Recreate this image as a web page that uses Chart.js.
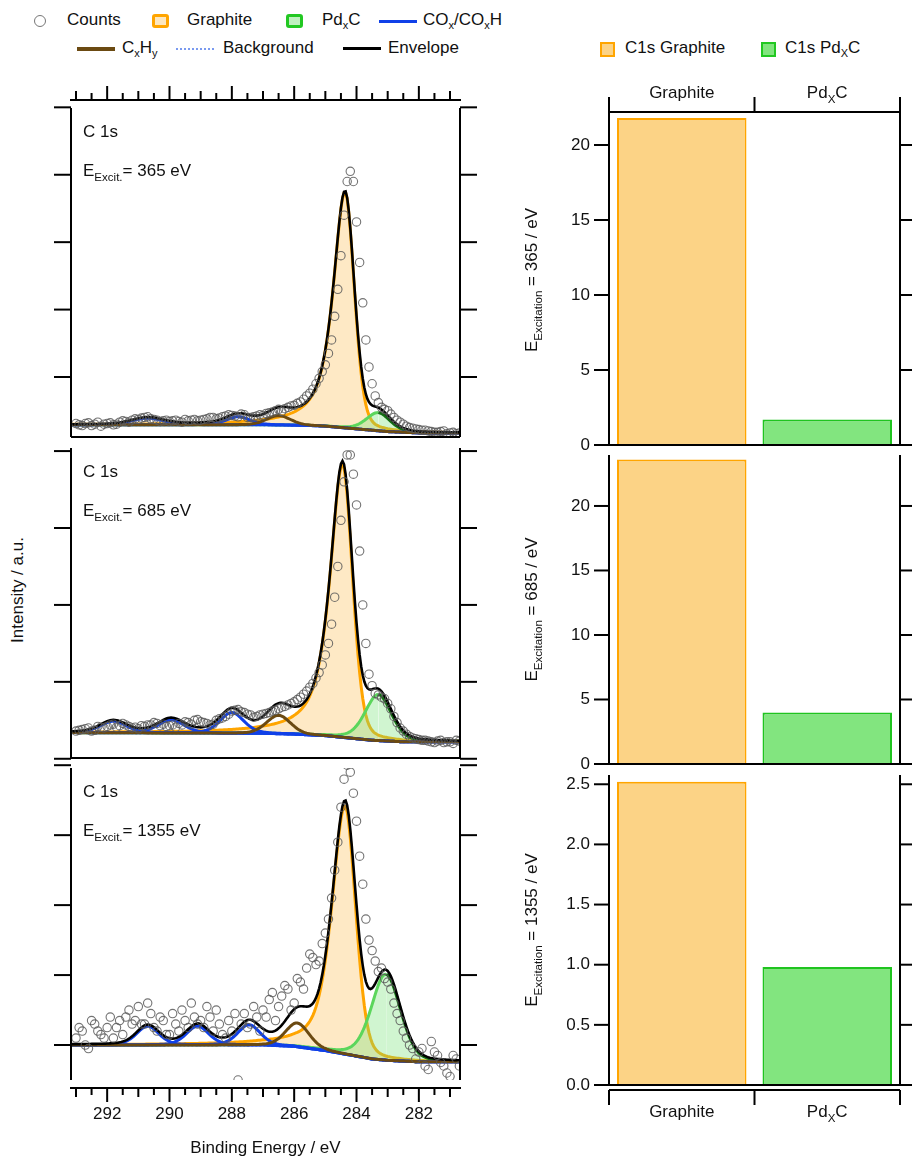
<!DOCTYPE html>
<html><head><meta charset="utf-8">
<script src="https://cdn.jsdelivr.net/npm/chart.js@4.4.0/dist/chart.umd.min.js"></script>
<style>
body{margin:0;background:#fff;width:912px;height:1169px;position:relative;overflow:hidden;font-family:"Liberation Sans",Arial,sans-serif;}
canvas{position:absolute;left:0;top:0;}
.lg{position:absolute;font-size:17px;color:#111;white-space:nowrap;line-height:20px}
.sw{position:absolute;}
sub{font-size:11px;vertical-align:-4px;line-height:0}
</style></head><body>
<div class="sw" style="left:34px;top:15px;width:10px;height:10px;border:1.5px solid #777;border-radius:50%"></div>
<div class="lg" style="left:67px;top:10px">Counts</div>
<div class="sw" style="left:152px;top:14px;width:11px;height:8px;border:3px solid #FFA500;background:#FDE7BF;border-radius:3px"></div>
<div class="lg" style="left:187px;top:10px">Graphite</div>
<div class="sw" style="left:286px;top:14px;width:11px;height:8px;border:3px solid #22C822;background:#bff0bf;border-radius:3px"></div>
<div class="lg" style="left:322px;top:10px">Pd<sub>x</sub>C</div>
<div class="sw" style="left:379px;top:20px;width:38px;height:3px;background:#1040E8"></div>
<div class="lg" style="left:423px;top:10px">CO<sub>x</sub>/CO<sub>x</sub>H</div>
<div class="sw" style="left:77px;top:47px;width:38px;height:4px;background:#6B4A12"></div>
<div class="sw" style="left:176px;top:48px;width:38px;height:0;border-top:2px dotted #7A9AF0"></div>
<div class="lg" style="left:122px;top:38px">C<sub>x</sub>H<sub>y</sub></div>
<div class="lg" style="left:223px;top:38px">Background</div>
<div class="sw" style="left:343px;top:47px;width:38px;height:3px;background:#000"></div>
<div class="lg" style="left:388px;top:38px">Envelope</div>
<div class="sw" style="left:600px;top:42px;width:11px;height:11px;border:2px solid #FFA500;background:#FCD386"></div>
<div class="lg" style="left:625px;top:38px">C1s Graphite</div>
<div class="sw" style="left:761px;top:42px;width:11px;height:11px;border:2px solid #22C822;background:#82E57F"></div>
<div class="lg" style="left:785px;top:38px">C1s Pd<sub>X</sub>C</div>
<div class="lg" style="left:-42px;top:580px;width:120px;text-align:center;transform:rotate(-90deg)">Intensity / a.u.</div>

<canvas id="l1"></canvas><canvas id="l2"></canvas><canvas id="l3"></canvas>
<canvas id="r1"></canvas><canvas id="r2"></canvas><canvas id="r3"></canvas>
<script>
// ---------- DATA ----------
const energies = [293.0,292.8,292.6,292.4,292.2,292.0,291.8,291.6,291.4,291.2,291.0,290.8,290.6,290.4,290.2,290.0,289.8,289.6,289.4,289.2,289.0,288.8,288.6,288.4,288.2,288.0,287.8,287.6,287.4,287.2,287.0,286.8,286.6,286.4,286.2,286.0,285.8,285.6,285.4,285.2,285.0,284.8,284.6,284.4,284.2,284.0,283.8,283.6,283.4,283.2,283.0,282.8,282.6,282.4,282.2,282.0,281.8,281.6,281.4,281.2,281.0,280.8];
const energiesB = [292.9,292.7,292.5,292.3,292.1,291.9,291.7,291.5,291.3,291.1,290.9,290.7,290.5,290.3,290.1,289.9,289.7,289.5,289.3,289.1,288.9,288.7,288.5,288.3,288.1,287.9,287.7,287.5,287.3,287.1,286.9,286.7,286.5,286.3,286.1,285.9,285.7,285.5,285.3,285.1,284.9,284.7,284.5,284.3,284.1,283.9,283.7,283.5,283.3,283.1,282.9,282.7,282.5,282.3,282.1,281.9,281.7,281.5,281.3,281.1,280.9,280.7];
const counts365 = [.31,.28,.32,.30,.27, .31,.29,.33,.34,.36, .37,.40,.38,.36,.35, .34,.36,.33,.35,.37, .36,.38,.40,.39,.42, .43,.41,.44,.40,.42, .43,.47,.50,.49,.55, .58,.63,.72,.82,.98, 1.18,1.55,2.3,3.4,4.05, 3.3,2.1,1.15,.72,.55, .50,.40,.33,.27,.24, .22,.21,.19,.18,.20,.17,.16];
const counts365b = [.29,.31,.28,.33,.30, .32,.30,.35,.33,.38, .39,.41,.37,.34,.36, .35,.34,.37,.36,.35, .37,.40,.38,.41,.44, .42,.45,.40,.41,.44, .46,.48,.52,.53,.57, .61,.67,.76,.90,1.08, 1.35,1.9,2.8,3.9,3.9, 2.7,1.55,.9,.62,.52, .45,.36,.30,.25,.23, .21,.20,.18,.19,.16,.18,.17];
const counts685 = [.36,.38,.40,.37,.41, .42,.45,.43,.44,.40, .39,.42,.44,.46,.45, .43,.41,.44,.47,.50, .48,.46,.45,.52,.55, .62,.64,.60,.57,.55, .58,.60,.63,.67,.70, .74,.80,.88,.98,1.12, 1.35,1.75,2.5,3.6,3.95, 3.3,2.0,1.1,.85,.80, .72,.55,.40,.32,.27, .25,.24,.22,.23,.21,.22,.24];
const counts685b = [.37,.39,.36,.42,.40, .44,.41,.46,.42,.41, .43,.44,.47,.43,.42, .44,.46,.48,.45,.51, .47,.44,.50,.53,.58, .63,.61,.58,.54,.57, .59,.62,.65,.68,.72, .77,.84,.93,1.05,1.22, 1.5,2.1,3.1,3.95,3.7, 2.7,1.5,.95,.83,.78, .65,.47,.36,.29,.26, .24,.23,.21,.24,.22,.20,.23];
const counts1355 = [.1,.2,-.05,.3,.15, .25,.1,.35,.4,.3, .55,.3,.45,.2,.35, .15,.3,.5,.25,.4, .35,.55,.2,.3,.1, .2,-.5,.45,.3,.4, .5,.65,.35,.7,.8, .6,.9,1.1,1.25,1.2, 1.6,2.1,2.9,3.8,3.9, 3.2,2.3,1.5,1.2,1.1, .9,.6,.35,.1,-.05, -.1,-.3,.05,-.15,-.3,-.45,-.2];
const counts1355b = [.25,.0,.35,.2,.1, .4,.25,.15,.5,.35, .3,.6,.25,.4,.15, .45,.2,.35,.6,.3, .25,.4,.5,.15,.35, .45,.3,.25,.55,.2, .4,.75,.55,.85,.5, .95,.8,1.3,1.15,1.45, 1.8,2.5,3.4,4.0,3.6, 2.7,1.8,1.35,1.05,.95, .8,.45,.2,.0,-.2, -.05,-.35,-.1,-.25,-.4,-.15,-.3];
// background anchor points
const bgE = [293.2,287,286,285.5,285,284.5,284,283.5,283,282.5,282,280.6];
const bg365 = [.29,.29,.285,.28,.27,.25,.23,.21,.19,.18,.17,.17];
const bg685 = [.34,.33,.32,.31,.30,.28,.26,.24,.23,.22,.22,.22];
const bg1355 = [0,0,-.02,-.05,-.08,-.12,-.16,-.2,-.22,-.23,-.24,-.24];
// fit components: [centre, height, width high-BE side, width low-BE side, lorentz high, lorentz low]
const graphite365 = [284.37,3.5,0.9,0.7,0.8,0.2];
const pdc365 = [283.3,0.27,0.9,0.9,0.3,0.3];
const cxhy365 = [286.5,0.14,0.9,0.9,0.2,0.2];
const cox365 = [[287.8,0.12,0.9],[290.7,0.10,1.2]];
const graphite685 = [284.45,3.55,0.95,0.75,0.8,0.2];
const pdc685 = [283.3,0.6,1.0,1.0,0.3,0.3];
const cxhy685 = [286.5,0.24,0.9,0.9,0.2,0.2];
const cox685 = [[288.0,0.27,0.9],[289.95,0.17,1.0],[291.8,0.15,1.0]];
const graphite1355 = [284.37,3.55,1.0,0.8,0.6,0.2];
const pdc1355 = [283.06,1.23,1.1,1.1,0.3,0.2];
const cxhy1355 = [285.9,0.34,0.9,0.9,0.2,0.2];
const cox1355 = [[287.45,0.29,0.85],[289.1,0.27,0.85],[290.7,0.27,0.85]];
// bar data
const barCats = ['Graphite','PdXC'];
const bars365 = [21.8,1.7];
const bars685 = [23.6,4.0];
const bars1355 = [2.52,0.98];
const xTickLabels = [292,290,288,286,284,282];

// ---------- HELPERS ----------
const FONT = '"Liberation Sans", Arial, sans-serif';
function pv(x,p){const [c,h,wl,wr,ml,mr]=p;const hi=x>c;const w=hi?wl:wr;const m=hi?ml:mr;const r=(x-c)/w;return h*(m/(1+4*r*r)+(1-m)*Math.exp(-4*Math.LN2*r*r));}
function interp(xs,ys,x){for(let i=0;i<xs.length-1;i++){if(x<=xs[i]&&x>=xs[i+1]){const t=(xs[i]-x)/(xs[i]-xs[i+1]);return ys[i]+t*(ys[i+1]-ys[i]);}}return x>xs[0]?ys[0]:ys[ys.length-1];}
const grid=[];for(let e=293.15;e>=280.65;e-=0.05)grid.push(+e.toFixed(2));
function rich(ctx,segs,x,y,size,align){
  let w=0;segs.forEach(s=>{ctx.font=(s[1]?size*0.68:size)+'px '+FONT;w+=ctx.measureText(s[0]).width;});
  let cx=align==='center'?x-w/2:(align==='right'?x-w:x);
  ctx.textAlign='left';ctx.textBaseline='alphabetic';
  segs.forEach(s=>{ctx.font=(s[1]?size*0.68:size)+'px '+FONT;ctx.fillText(s[0],cx,y+(s[1]?size*0.32:0));cx+=ctx.measureText(s[0]).width;});
}
function line(ctx,x1,y1,x2,y2){ctx.beginPath();ctx.moveTo(x1,y1);ctx.lineTo(x2,y2);ctx.stroke();}
function setupCanvas(id){const c=document.getElementById(id);c.style.width='912px';c.style.height='1169px';return c;}

// ---------- LEFT SPECTRA ----------
function spectrum(id,cfg){
  const bgv=grid.map(e=>interp(bgE,cfg.bg,e));
  const comp=p=>grid.map((e,i)=>({x:e,y:bgv[i]+pv(e,p)}));
  const coxP=cfg.cox.map(c=>[c[0],c[1],c[2],c[2],0.3,0.3]);
  const all=[cfg.graphite,cfg.pdc,cfg.cxhy,...coxP];
  const env=grid.map((e,i)=>({x:e,y:bgv[i]+all.reduce((s,p)=>s+pv(e,p),0)}));
  const ds=[
    {data:grid.map((e,i)=>({x:e,y:bgv[i]})),borderColor:'#7A9AF0',borderWidth:3,borderDash:[2,2],pointRadius:0,order:8},
    {data:comp(cfg.graphite),borderColor:'#FFA500',borderWidth:3,pointRadius:0,fill:{target:0,above:'rgba(253,215,150,0.55)',below:'rgba(253,215,150,0.55)'},order:6},
    {data:comp(cfg.pdc),borderWidth:3,pointRadius:0,borderColor:'#1A7A1A',segment:{borderColor:c=>c.p0.parsed.x>cfg.pdc[0]?'#5CD65C':'#146E14'},fill:{target:0,above:'rgba(120,225,120,0.35)',below:'rgba(120,225,120,0.35)'},order:5},
    {data:comp(cfg.cxhy),borderColor:'#6B4A12',borderWidth:3,pointRadius:0,order:4},
  ];
  coxP.forEach(p=>ds.push({data:comp(p),borderColor:'#1040E8',borderWidth:3,pointRadius:0,order:4}));
  ds.push({data:env,borderColor:'#000',borderWidth:2.6,pointRadius:0,order:2});
  const pts=energies.map((e,i)=>({x:e,y:cfg.counts[i]})).concat(energiesB.map((e,i)=>({x:e,y:cfg.countsB[i]})));
  ds.push({data:pts,showLine:false,pointRadius:4.2,pointBorderWidth:1.1,pointBorderColor:'rgba(90,90,90,0.85)',pointBackgroundColor:'rgba(0,0,0,0)',order:1});
  const axes={id:'ax'+id,afterDraw(ch){
    const ctx=ch.ctx,a=ch.chartArea,ys=ch.scales.y,xs=ch.scales.x;
    ctx.save();ctx.strokeStyle='#000';ctx.fillStyle='#111';ctx.lineWidth=2;
    line(ctx,a.left,a.top,a.left,a.bottom);line(ctx,a.right,a.top,a.right,a.bottom);
    if(cfg.bottomBorder)line(ctx,a.left,a.bottom,a.right,a.bottom);
    cfg.yticks.forEach(v=>{const y=ys.getPixelForValue(v);line(ctx,a.left-17,y,a.left,y);line(ctx,a.right,y,a.right+17,y);});
    const drawX=(yl,dir,labels)=>{line(ctx,a.left-1,yl,a.right+1,yl);
      for(let k=0;k<=25;k++){const e=293-k*0.5;if(e<280.65)break;const x=xs.getPixelForValue(e);const major=Math.abs(e%2)<1e-6;const len=major?14:(Math.abs(e%1)<1e-6?9:7);line(ctx,x,yl,x,yl+dir*len);}
      if(labels){ctx.font='17px '+FONT;ctx.textAlign='center';ctx.textBaseline='alphabetic';xTickLabels.forEach(v=>ctx.fillText(String(v),xs.getPixelForValue(v),yl+31));}};
    if(cfg.topAxis)drawX(100,-1,false);
    if(cfg.bottomAxis){drawX(1088,1,true);ctx.font='17px '+FONT;ctx.textAlign='center';ctx.fillText('Binding Energy / eV',(a.left+a.right)/2,1153);}
    rich(ctx,[['C 1s']],83,a.top+29,17,'left');
    rich(ctx,[['E'],['Excit.',1],['= '+cfg.ex+' eV']],83,a.top+68,17,'left');
    ctx.restore();}};
  new Chart(setupCanvas(id),{type:'line',data:{datasets:ds},plugins:[axes],options:{
    responsive:false,animation:false,events:[],
    layout:{padding:{left:71,right:912-460,top:cfg.top,bottom:1169-cfg.bottom}},
    plugins:{legend:{display:false},tooltip:{enabled:false}},
    scales:{x:{type:'linear',reverse:true,min:280.68,max:293.16,display:false},y:{min:cfg.ymin,max:cfg.ymax,display:false}}}});
}
spectrum('l1',{top:108,bottom:437,ymin:0.11,ymax:4.99,yticks:[1,2,3,4,5],bottomBorder:true,topAxis:true,counts:counts365,countsB:counts365b,bg:bg365,graphite:graphite365,pdc:pdc365,cxhy:cxhy365,cox:cox365,ex:'365'});
spectrum('l2',{top:448,bottom:758,ymin:0.01,ymax:4.04,yticks:[0,1,2,3,4],bottomBorder:true,counts:counts685,countsB:counts685b,bg:bg685,graphite:graphite685,pdc:pdc685,cxhy:cxhy685,cox:cox685,ex:'685'});
spectrum('l3',{top:768,bottom:1080,ymin:-0.5,ymax:3.96,yticks:[0,1,2,3,4],bottomAxis:true,counts:counts1355,countsB:counts1355b,bg:bg1355,graphite:graphite1355,pdc:pdc1355,cxhy:cxhy1355,cox:cox1355,ex:'1355'});

// ---------- RIGHT BARS ----------
function barPanel(id,cfg){
  const axes={id:'ax'+id,afterDraw(ch){
    const ctx=ch.ctx,a=ch.chartArea,ys=ch.scales.y;
    ctx.save();ctx.strokeStyle='#000';ctx.fillStyle='#111';ctx.lineWidth=2;
    line(ctx,a.left,cfg.frameTop,a.left,a.bottom);line(ctx,a.right,cfg.frameTop,a.right,a.bottom);
    line(ctx,a.left-15,a.bottom,a.right,a.bottom);
    ctx.font='17px '+FONT;ctx.textAlign='right';ctx.textBaseline='middle';
    cfg.ticks.forEach(v=>{const y=ys.getPixelForValue(v);line(ctx,a.left-15,y,a.left,y);line(ctx,a.right,y,a.right+15,y);ctx.fillText(cfg.fmt(v),a.left-19,y);});
    const mid=(a.left+a.right)/2;
    const cat=(yl,dir,ly)=>{line(ctx,a.left,yl,a.right,yl);[a.left,mid,a.right].forEach(x=>line(ctx,x,yl,x,yl+dir*15));
      rich(ctx,[['Graphite']],(a.left+mid)/2,ly,17,'center');rich(ctx,[['Pd'],['X',1],['C']],(mid+a.right)/2,ly,17,'center');};
    if(cfg.topCat)cat(112,-1,98);
    if(cfg.bottomCat)cat(1090,1,1117);
    ctx.translate(537,(a.top+a.bottom)/2);ctx.rotate(-Math.PI/2);
    rich(ctx,[['E'],['Excitation',1],[' = '+cfg.ex+' / eV']],0,0,17,'center');
    ctx.restore();}};
  new Chart(setupCanvas(id),{type:'bar',data:{labels:barCats,datasets:[{data:cfg.data,backgroundColor:['#FCD386','#82E57F'],borderColor:['#FFA500','#1FC41F'],borderWidth:2,barPercentage:0.89,categoryPercentage:1}]},plugins:[axes],options:{
    responsive:false,animation:false,events:[],
    layout:{padding:{left:609,right:912-900,top:cfg.top,bottom:1169-cfg.bottom}},
    plugins:{legend:{display:false},tooltip:{enabled:false}},
    scales:{x:{display:false},y:{min:0,max:cfg.max,display:false}}}});
}
barPanel('r1',{top:115,bottom:445,frameTop:112,max:22.0,ticks:[0,5,10,15,20],fmt:v=>String(v),data:bars365,ex:'365',topCat:true});
barPanel('r2',{top:455,bottom:764,frameTop:455,max:23.95,ticks:[0,5,10,15,20],fmt:v=>String(v),data:bars685,ex:'685'});
barPanel('r3',{top:775,bottom:1085,frameTop:775,max:2.577,ticks:[0,0.5,1,1.5,2,2.5],fmt:v=>v.toFixed(1),data:bars1355,ex:'1355',bottomCat:true});
</script>
</body></html>
